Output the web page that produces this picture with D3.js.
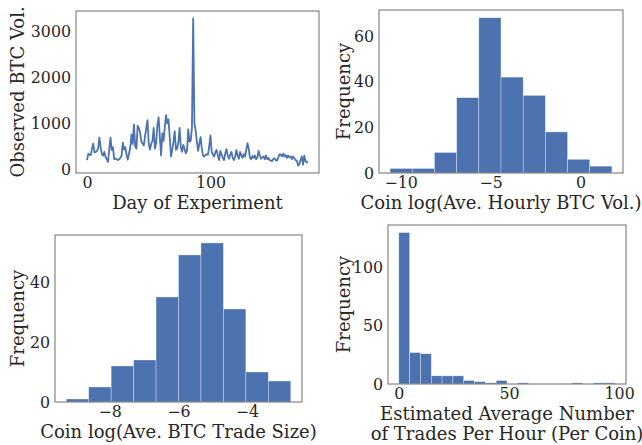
<!DOCTYPE html>
<html>
<head>
<meta charset="utf-8">
<script src="https://cdn.jsdelivr.net/npm/d3@7"></script>
<style>
  html, body { margin: 0; padding: 0; background: #fff; }
  svg { display: block; }
  text { font-family: "DejaVu Serif", serif; fill: #262626; }
</style>
</head>
<body>
<svg id="chart" width="642" height="445"></svg>
<script>
// ---------- DATA ----------
// Panel 1: daily observed BTC volume (days 0..179)
const btcVolume = [
  200, 340, 320, 310, 450, 560, 370, 380, 400, 450,
  690, 480, 330, 300, 380, 270, 220, 160, 450, 690,
  420, 480, 220, 230, 220, 200, 220, 250, 300, 580,
  430, 480, 320, 210, 340, 470, 760, 550, 980, 500,
  450, 950, 900, 800, 600, 560, 520, 730, 900, 1070,
  550, 430, 560, 620, 900, 450, 580, 960, 1130, 700,
  300, 790, 620, 920, 1180, 1000, 1090, 700, 280, 420,
  600, 830, 430, 450, 590, 900, 480, 380, 530, 450,
  350, 400, 870, 600, 620, 900, 3290, 1000, 850, 600,
  400, 560, 700, 450, 300, 280, 310, 330, 320, 500,
  740, 380, 320, 280, 380, 420, 300, 200, 400, 330,
  250, 200, 350, 440, 300, 230, 320, 380, 250, 200,
  280, 420, 300, 230, 380, 300, 250, 330, 280, 420,
  570, 450, 250, 220, 290, 250, 300, 220, 260, 400,
  300, 230, 260, 280, 220, 300, 220, 250, 200, 190,
  180, 230, 240, 200, 190, 260, 330, 320, 280, 340,
  280, 310, 250, 300, 260, 280, 220, 280, 240, 200,
  190, 80, 110, 200, 280, 100, 300, 180, 150, 160
];
const days = btcVolume.map((_, i) => i);

// Panel 2: histogram of coin log(ave. hourly BTC vol.)
const hourlyVolRange = [-10.59, 1.74];
const hourlyVolCounts = [2, 2, 9, 33, 68, 42, 34, 18, 6, 3];

// Panel 3: histogram of coin log(ave. BTC trade size)
const tradeSizeRange = [-9.27, -2.72];
const tradeSizeCounts = [1, 5, 12, 14, 35, 49, 53, 31, 10, 7];

// Panel 4: histogram of estimated average trades per hour
const tradesRange = [0, 98.2];
const tradesCounts = [130, 27, 26, 7, 7, 7, 3, 2, 1, 3, 0, 1, 0, 0, 0, 0, 1, 0, 1, 1];

// Tick values / labels
const p1XTicks = [0, 100];
const p1YTicks = [0, 1000, 2000, 3000];
const p2XTicks = [-10, -5, 0];
const p2YTicks = [0, 20, 40, 60];
const p3XTicks = [-8, -6, -4];
const p3YTicks = [0, 20, 40];
const p4XTicks = [0, 50, 100];
const p4YTicks = [0, 50, 100];

const labels = {
  p1x: ["Day of Experiment"], p1y: "Observed BTC Vol.",
  p2x: ["Coin log(Ave. Hourly BTC Vol.)"], p2y: "Frequency",
  p3x: ["Coin log(Ave. BTC Trade Size)"], p3y: "Frequency",
  p4x: ["Estimated Average Number", "of Trades Per Hour (Per Coin)"], p4y: "Frequency"
};

// ---------- STYLE ----------
const BLUE = "#4c72b0";
const TICK_FS = 15.8;
const LABEL_FS = 18;
const fmtTick = v => (v < 0 ? "\u2212" + Math.abs(v) : String(v));

const svg = d3.select("#chart");

function padDomain(lo, hi, frac) {
  const r = hi - lo;
  return [lo - r * frac, hi + r * frac];
}

function panel(cfg) {
  const { left, top, width, height } = cfg.frame;
  const g = svg.append("g").attr("transform", `translate(${left},${top})`);
  const x = d3.scaleLinear().domain(cfg.xDomain).range([0, width]);
  const y = d3.scaleLinear().domain(cfg.yDomain).range([height, 0]);

  cfg.draw(g, x, y);

  // frame
  g.append("rect").attr("x", 0).attr("y", 0).attr("width", width).attr("height", height)
    .attr("fill", "none").attr("stroke", "#7a7a7a").attr("stroke-width", 1.1);

  // axes (no tick lines, seaborn white style)
  const xAxis = d3.axisBottom(x).tickValues(cfg.xTicks).tickSize(0).tickPadding(4).tickFormat(fmtTick);
  const gx = g.append("g").attr("transform", `translate(0,${height})`).call(xAxis);
  const yAxis = d3.axisLeft(y).tickValues(cfg.yTicks).tickSize(0).tickPadding(5).tickFormat(fmtTick);
  const gy = g.append("g").call(yAxis);
  [gx, gy].forEach(a => {
    a.select(".domain").remove();
    a.selectAll("text").style("font-family", "DejaVu Serif, serif")
      .style("font-size", TICK_FS + "px").attr("fill", "#262626");
  });

  // x label (possibly multi-line)
  cfg.xLabel.forEach((t, i) => {
    g.append("text").attr("x", width / 2).attr("y", height + 35.5 + i * 20)
      .attr("text-anchor", "middle").style("font-size", LABEL_FS + "px").text(t);
  });
  // y label
  g.append("text")
    .attr("transform", `translate(${cfg.yLabelX - left},${height / 2}) rotate(-90)`)
    .attr("text-anchor", "middle").attr("dominant-baseline", "central")
    .style("font-size", LABEL_FS + "px").text(cfg.yLabel);
}

function histDraw(range, counts) {
  const w = (range[1] - range[0]) / counts.length;
  const bins = counts.map((c, i) => ({ x0: range[0] + i * w, x1: range[0] + (i + 1) * w, c }));
  return (g, x, y) => {
    g.selectAll("rect.bar").data(bins.filter(b => b.c > 0)).join("rect")
      .attr("class", "bar")
      .attr("x", d => x(d.x0)).attr("width", d => x(d.x1) - x(d.x0))
      .attr("y", d => y(d.c)).attr("height", d => y(0) - y(d.c))
      .attr("fill", BLUE).attr("stroke", "#ffffff").attr("stroke-opacity", 0.55).attr("stroke-width", 0.6);
  };
}
function histDomains(range, counts) {
  return { x: padDomain(range[0], range[1], 0.05), y: [0, d3.max(counts) * 1.05] };
}

// Panel 1: line
{
  const ext = d3.extent(btcVolume);
  panel({
    frame: { left: 76, top: 11, width: 243, height: 162 },
    xDomain: padDomain(0, days[days.length - 1], 0.05),
    yDomain: padDomain(ext[0], ext[1], 0.05),
    xTicks: p1XTicks, yTicks: p1YTicks,
    xLabel: labels.p1x, yLabel: labels.p1y, yLabelX: 17,
    draw: (g, x, y) => {
      const line = d3.line().x((d, i) => x(days[i])).y(d => y(d));
      g.append("path").datum(btcVolume).attr("d", line)
        .attr("fill", "none").attr("stroke", BLUE).attr("stroke-width", 1.8)
        .attr("stroke-linejoin", "round");
    }
  });
}
// Panel 2
{
  const d = histDomains(hourlyVolRange, hourlyVolCounts);
  panel({
    frame: { left: 379, top: 10, width: 244, height: 163 },
    xDomain: d.x, yDomain: d.y, xTicks: p2XTicks, yTicks: p2YTicks,
    xLabel: labels.p2x, yLabel: labels.p2y, yLabelX: 343,
    draw: histDraw(hourlyVolRange, hourlyVolCounts)
  });
}
// Panel 3
{
  const d = histDomains(tradeSizeRange, tradeSizeCounts);
  panel({
    frame: { left: 55, top: 235, width: 247, height: 167 },
    xDomain: d.x, yDomain: d.y, xTicks: p3XTicks, yTicks: p3YTicks,
    xLabel: labels.p3x, yLabel: labels.p3y, yLabelX: 17,
    draw: histDraw(tradeSizeRange, tradeSizeCounts)
  });
}
// Panel 4
{
  const d = histDomains(tradesRange, tradesCounts);
  panel({
    frame: { left: 388, top: 225, width: 238, height: 159 },
    xDomain: d.x, yDomain: d.y, xTicks: p4XTicks, yTicks: p4YTicks,
    xLabel: labels.p4x, yLabel: labels.p4y, yLabelX: 343,
    draw: histDraw(tradesRange, tradesCounts)
  });
}
</script>
</body>
</html>
